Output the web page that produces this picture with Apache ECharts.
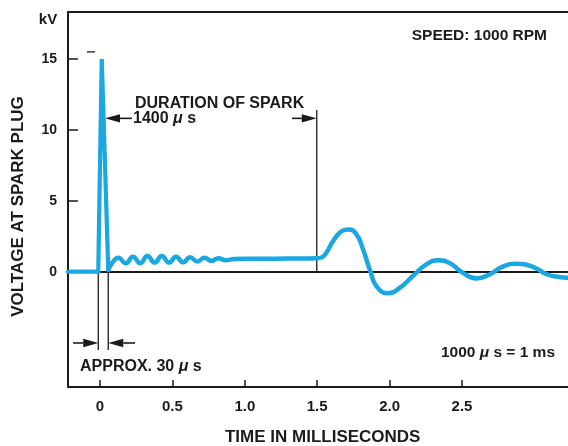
<!DOCTYPE html>
<html>
<head>
<meta charset="utf-8">
<script src="https://cdn.jsdelivr.net/npm/echarts@6/dist/echarts.min.js"></script>
<style>
  html, body { margin: 0; padding: 0; background: #ffffff; }
  #chart { width: 568px; height: 446px; }
</style>
</head>
<body>
<div id="chart"></div>
<script>
// Time axis in milliseconds, voltage axis in kilovolts
const timeRange = [-0.221, 3.232];
const voltRange = [-8.1, 18.31];
const timeTicks = [0, 0.5, 1.0, 1.5, 2.0, 2.5];
const voltTicks = [0, 5, 10, 15];

// Firing spike: [ms, kV]
const sparkPulse = [
  [-0.221, 0.02], [-0.012, 0.02], [0.012, 15.0], [0.057, 0.15]
];

// Ringing, burn phase and coil oscillation after the spark: [ms, kV]
const sparkTail = [
  [0.057, 0.15], [0.085, 0.65], [0.126, 1.0], [0.178, 0.62], [0.228, 1.08],
  [0.277, 0.62], [0.327, 1.12], [0.378, 0.66], [0.426, 1.12], [0.478, 0.66],
  [0.525, 1.08], [0.575, 0.68], [0.622, 1.04], [0.673, 0.73], [0.72, 1.01],
  [0.771, 0.78], [0.817, 0.97], [0.868, 0.82], [0.93, 0.92], [1.1, 0.93],
  [1.3, 0.95], [1.5, 0.97], [1.53, 1.02], [1.56, 1.3], [1.611, 2.2],
  [1.669, 2.88], [1.715, 3.0], [1.768, 2.7], [1.818, 1.55], [1.865, 0.1],
  [1.911, -1.03], [1.99, -1.5], [2.072, -1.1], [2.164, -0.25], [2.256, 0.55],
  [2.336, 0.82], [2.417, 0.62], [2.498, 0.0], [2.601, -0.45], [2.693, -0.16],
  [2.785, 0.4], [2.878, 0.58], [2.993, 0.35], [3.085, -0.16], [3.16, -0.33],
  [3.232, -0.4]
];

// Reference line at 0 kV: [t1, v1, t2, v2]
const zeroLine = [[-0.221, 0, 3.232, 0]];

// Thin leader lines: [t1, v1, t2, v2]
const leaderLines = [
  [1.497, 11.4, 1.497, 0],
  [-0.012, 0, -0.012, -5.5],
  [0.057, 0, 0.057, -5.5],
  [-0.09, 15.5, -0.035, 15.5]
];

// Dimension arrows, tail to tip: [t1, v1, t2, v2]
const dimensionArrows = [
  [0.221, 10.82, 0.0345, 10.82],
  [1.326, 10.82, 1.497, 10.82],
  [-0.186, -5.0, -0.012, -5.0],
  [0.242, -5.0, 0.057, -5.0]
];

const INK = '#1b1b1b';
const TRACE = '#1ba7e1';
const FONT = '"Liberation Sans", Arial, Helvetica, sans-serif';

function segmentRenderer(width) {
  return function (params, api) {
    const a = api.coord([api.value(0), api.value(1)]);
    const b = api.coord([api.value(2), api.value(3)]);
    return {
      type: 'line',
      shape: { x1: a[0], y1: a[1], x2: b[0], y2: b[1] },
      style: { stroke: INK, lineWidth: width }
    };
  };
}

function arrowRenderer(params, api) {
  const a = api.coord([api.value(0), api.value(1)]);
  const b = api.coord([api.value(2), api.value(3)]);
  const dx = b[0] - a[0], dy = b[1] - a[1];
  const len = Math.hypot(dx, dy) || 1;
  const ux = dx / len, uy = dy / len;
  const headLen = 15, half = 4.2;
  const bx = b[0] - ux * headLen, by = b[1] - uy * headLen;
  return {
    type: 'group',
    children: [
      { type: 'line', shape: { x1: a[0], y1: a[1], x2: bx, y2: by },
        style: { stroke: INK, lineWidth: 1.6 } },
      { type: 'polygon',
        shape: { points: [[b[0], b[1]], [bx - uy * half, by + ux * half], [bx + uy * half, by - ux * half]] },
        style: { fill: INK } }
    ]
  };
}

function txt(text, x, y, size, align, extra) {
  return {
    type: 'text',
    x: x, y: y,
    silent: true,
    ...(extra || {}),
    style: {
      text: text,
      fontFamily: FONT, fontWeight: 'bold', fontSize: size,
      fill: INK,
      align: align, textAlign: align,
      verticalAlign: 'middle', textVerticalAlign: 'middle',
      rich: { mu: { fontFamily: FONT, fontWeight: 'bold', fontSize: size, fontStyle: 'italic', fill: INK } }
    }
  };
}

const chart = echarts.init(document.getElementById('chart'), null, { renderer: 'canvas' });

chart.setOption({
  animation: false,
  backgroundColor: '#ffffff',
  grid: { left: 68, right: 0, top: 12, bottom: 59, containLabel: false },
  xAxis: [
    {
      type: 'value', position: 'bottom',
      min: timeRange[0], max: timeRange[1],
      axisLine: { onZero: false, lineStyle: { color: INK, width: 2 } },
      axisTick: { inside: true, length: 7, customValues: timeTicks, lineStyle: { color: INK, width: 1.5 } },
      axisLabel: {
        customValues: timeTicks, margin: 12,
        color: INK, fontFamily: FONT, fontWeight: 'bold', fontSize: 15,
        formatter: v => (v === 0 ? '0' : v.toFixed(1))
      },
      splitLine: { show: false }
    },
    {
      type: 'value', position: 'top',
      min: timeRange[0], max: timeRange[1],
      axisLine: { onZero: false, lineStyle: { color: INK, width: 2 } },
      axisTick: { show: false }, axisLabel: { show: false }, splitLine: { show: false }
    }
  ],
  yAxis: {
    type: 'value', position: 'left',
    min: voltRange[0], max: voltRange[1],
    axisLine: { show: true, onZero: false, lineStyle: { color: INK, width: 2 } },
    axisTick: { show: true, inside: true, length: 10, customValues: voltTicks, lineStyle: { color: INK, width: 1.5 } },
    axisLabel: {
      customValues: voltTicks, margin: 11,
      color: INK, fontFamily: FONT, fontWeight: 'bold', fontSize: 14
    },
    splitLine: { show: false }
  },
  series: [
    {
      type: 'custom', name: 'zero', z: 1, silent: true,
      encode: { x: [0, 2], y: [1, 3] },
      renderItem: segmentRenderer(2),
      data: zeroLine
    },
    {
      type: 'custom', name: 'leaders', z: 1, silent: true,
      encode: { x: [0, 2], y: [1, 3] },
      renderItem: segmentRenderer(1.3),
      data: leaderLines
    },
    {
      type: 'custom', name: 'arrows', z: 1, silent: true,
      encode: { x: [0, 2], y: [1, 3] },
      renderItem: arrowRenderer,
      data: dimensionArrows
    },
    {
      type: 'line', name: 'spike', z: 3, silent: true,
      showSymbol: false, smooth: false,
      lineStyle: { color: TRACE, width: 4.2, join: 'miter', cap: 'round' },
      data: sparkPulse
    },
    {
      type: 'line', name: 'tail', z: 3, silent: true,
      showSymbol: false, smooth: 0.5,
      lineStyle: { color: TRACE, width: 4.5, join: 'round', cap: 'round' },
      data: sparkTail
    }
  ],
  graphic: [
    txt('kV', 48, 20, 15, 'center'),
    txt('SPEED: 1000 RPM', 547, 36, 15.5, 'right'),
    txt('DURATION OF SPARK', 135, 104, 16, 'left'),
    txt('1400 {mu|μ} s', 133, 119, 16, 'left'),
    txt('APPROX. 30 {mu|μ} s', 80, 367, 16, 'left'),
    txt('1000 {mu|μ} s = 1 ms', 555, 353, 15.5, 'right'),
    txt('TIME IN MILLISECONDS', 322.7, 437, 17, 'center'),
    txt('VOLTAGE AT SPARK PLUG', 18, 206.5, 17, 'center', { rotation: Math.PI / 2 })
  ]
});
</script>
</body>
</html>
